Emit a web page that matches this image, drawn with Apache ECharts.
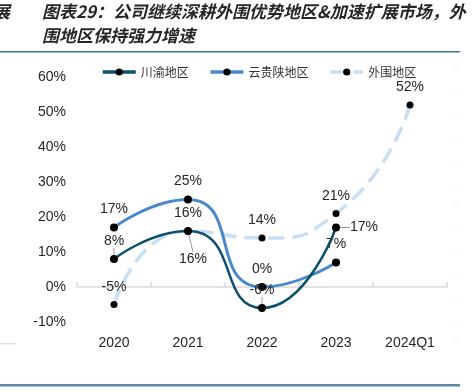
<!DOCTYPE html>
<html><head><meta charset="utf-8">
<script src="https://cdn.jsdelivr.net/npm/echarts@6/dist/echarts.min.js"></script>
<style>html,body{margin:0;padding:0;background:#fff}#c{width:473px;height:392px}</style>
</head><body><div id="c"></div>
<script>
const categories = ['2020','2021','2022','2023','2024Q1'];
const chuanyu = [8, 16, -6, 17, null];
const yunguishan = [17, 25, 0, 7, null];
const waiwei = [-5, 16, 14, 21, 52];
const seriesNames = ['川渝地区','云贵陕地区','外围地区'];
const yTicks = {min: -10, max: 60, interval: 10};
const titleLines = ['图表29：公司继续深耕外围优势地区&加速扩展市场，外','围地区保持强力增速'];

const NUM = "'Liberation Sans',Arial,sans-serif";
const CJK = "'Noto Sans CJK SC',sans-serif";
const chart = echarts.init(document.getElementById('c'));

const lbl = (extra) => Object.assign({show:true, position:'top', distance:7, color:'#262626', fontSize:14, fontFamily:NUM, formatter: p => p.value + '%'}, extra||{});

const dashes = [];
[71,94,117,139,162,185,207,230,253,275,298,321,343].forEach(y=>{
  dashes.push({type:'rect', shape:{x:455,y:y,width:2,height:1}, style:{fill:'#e4e4e4'}, silent:true});
});

const colDark = '#0d4f6e', colMid = '#4a88c8', colLight = '#c8def2';

chart.setOption({
  animation:false,
  graphic:[
    {type:'text', left:-7, top:3, style:{text:'展', font:'italic bold 17px '+CJK, fill:'#262626'}},
    {type:'text', left:42, top:3, style:{text:titleLines[0], font:'italic bold 17px '+CJK, fill:'#262626'}},
    {type:'text', left:42, top:27, style:{text:titleLines[1], font:'italic bold 17px '+CJK, fill:'#262626'}},
    {type:'rect', shape:{x:0,y:51,width:460,height:1.5}, style:{fill:'#3a7494'}},
    {type:'rect', shape:{x:0,y:384,width:460,height:2.5}, style:{fill:'#5a8aa3'}},
    {type:'rect', shape:{x:0,y:343,width:16,height:1.5}, style:{fill:'#e0e0e0'}}
  ].concat(dashes),
  legend:{
    left:96, top:61, itemWidth:33, itemHeight:9, itemGap:20,
    lineStyle:{width:3.5},
    textStyle:{fontFamily:CJK, fontSize:12, color:'#333'},
    data: [
      {name:seriesNames[0], lineStyle:{color:colDark, width:3.5}, itemStyle:{color:'#000'}},
      {name:seriesNames[1], lineStyle:{color:colMid, width:3.5}, itemStyle:{color:'#000'}},
      {name:seriesNames[2], lineStyle:{color:colLight, width:3.5, type:[17,6]}, itemStyle:{color:'#000'}}
    ]
  },
  grid:{left:77, right:26, top:77, bottom:70, containLabel:false},
  xAxis:[
    {type:'category', data:categories, position:'bottom', boundaryGap:true,
     axisLine:{show:false, onZero:false}, axisTick:{show:false},
     axisLabel:{color:'#262626', fontSize:14, fontFamily:NUM, margin:14}},
    {type:'category', data:categories, boundaryGap:true, position:'bottom',
     axisLine:{show:true, onZero:true, lineStyle:{color:'#d9d9d9', width:1.5}},
     axisTick:{show:true, inside:true, length:5, lineStyle:{color:'#d9d9d9', width:1.5}},
     axisLabel:{show:false}}
  ],
  yAxis:{type:'value', min:yTicks.min, max:yTicks.max, interval:yTicks.interval,
    axisLine:{show:false}, axisTick:{show:false}, splitLine:{show:false},
    axisLabel:{color:'#262626', fontSize:14, fontFamily:NUM, margin:11, formatter: v => v + '%'}},
  series:[
    {name:seriesNames[2], type:'line', smooth:0.6, data:waiwei, z:1,
     symbol:'circle', symbolSize:7, itemStyle:{color:'#000'},
     lineStyle:{color:colLight, width:3.5, type:[16,8]},
     label:lbl()},
    {name:seriesNames[1], type:'line', smooth:0.6, data:yunguishan, z:2,
     symbol:'circle', symbolSize:8, itemStyle:{color:'#000'},
     lineStyle:{color:colMid, width:3},
     label:lbl()},
    {name:seriesNames[0], type:'line', smooth:0.6, z:3,
     data: chuanyu.map((v,i)=> i===3 ? {value:v, label:{position:'right', distance:10}} : v),
     symbol:'circle', symbolSize:8, itemStyle:{color:'#000'},
     lineStyle:{color:colDark, width:2.5},
     label:lbl(),
     labelLine:{show:true, lineStyle:{color:'#999', width:1}},
     labelLayout: p => p.dataIndex===1 ? {dx:5, dy:46} : {}}
  ]
});
</script></body></html>
